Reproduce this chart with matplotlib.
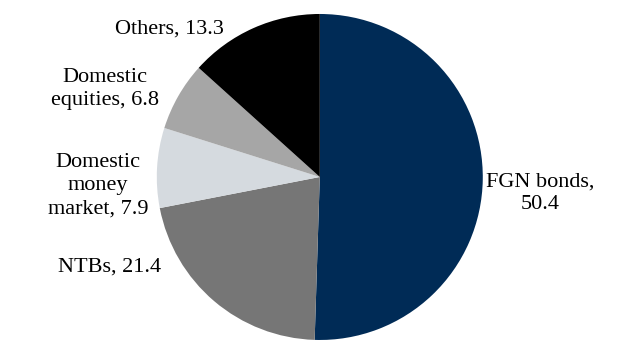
import matplotlib.pyplot as plt

# portfolio shares (%)
labels = ["FGN bonds,\n50.4", "NTBs, 21.4", "Domestic\nmoney\nmarket, 7.9",
          "Domestic\nequities, 6.8", "Others, 13.3"]
values = [50.4, 21.4, 7.9, 6.8, 13.3]
colors = ["#002B56", "#767676", "#D5DADF", "#A6A6A6", "#000000"]

# label positions in pie units (center 0,0, radius 1)
label_pos = [(1.35, -0.1), (-1.29, -0.55), (-1.36, -0.055), (-1.32, 0.54), (-0.92, 0.91)]

plt.rcParams["font.family"] = ["Liberation Serif", "DejaVu Serif"]

fig = plt.figure(figsize=(6.32, 3.41), dpi=100)
ax = fig.add_axes([0.248, 0.003, 0.516, 0.956])
ax.pie(values, colors=colors, startangle=90, counterclock=False)
ax.set_xlim(-1, 1)
ax.set_ylim(-1, 1)
ax.set_aspect("equal")

for lab, (x, y) in zip(labels, label_pos):
    ax.text(x, y, lab, ha="center", va="center", fontsize=16,
            linespacing=1.3, clip_on=False)

fig.savefig("out.png", dpi=100)
